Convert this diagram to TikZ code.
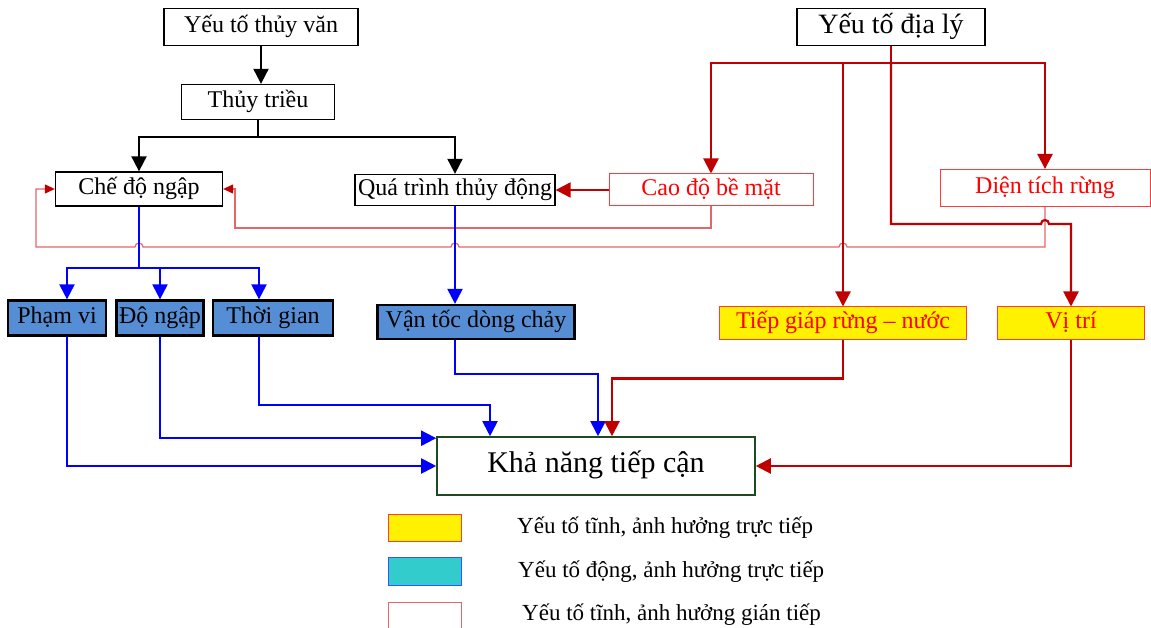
\documentclass[tikz,border=0pt]{standalone}
\usepackage{fontspec}
\setmainfont{Liberation Serif}
\usepackage{xcolor}
\usetikzlibrary{arrows.meta,positioning,calc}
\definecolor{darkred}{HTML}{C00000}
\definecolor{thinred}{HTML}{E06868}
\definecolor{boxred}{HTML}{FF3B3B}
\definecolor{textred}{HTML}{FF0000}
\definecolor{bluefill}{HTML}{558ED5}
\definecolor{goalgreen}{HTML}{1E4A22}
\definecolor{legcyan}{HTML}{33CCCC}
\definecolor{legblue}{HTML}{3355FF}

\begin{document}
\begin{tikzpicture}[x=1pt, y=1pt,
  box/.style={draw, inner sep=0pt, font=\fontsize{24}{26}\selectfont, text height=16pt, text depth=5pt},
  blkbox/.style={box, draw=black, line width=1.3pt, fill=white},
  redbox/.style={box, draw=boxred, line width=1pt, text=textred, fill=white},
  yelbox/.style={redbox, fill=yellow},
  bluebox/.style={box, draw=black, line width=2.2pt, fill=bluefill},
  blkarr/.style={-{Triangle[width=15pt,length=15pt]}, line width=2pt},
  bluarr/.style={-{Triangle[width=15pt,length=15pt]}, line width=2pt, blue},
  redarr/.style={-{Triangle[width=15pt,length=15pt]}, line width=2.2pt, darkred},
  thinarr/.style={-{Triangle[width=9pt,length=10pt,color=darkred]}, line width=1.2pt, thinred},
  legtext/.style={anchor=west, inner sep=0pt, font=\fontsize{23}{25}\selectfont}]

\useasboundingbox (0,0) rectangle (1151,-628);

% hydrology side
\node[blkbox, minimum width=194pt, minimum height=37pt] (thuyvan) at (261,-27) {Yếu tố thủy văn};
\node[blkbox, minimum width=153pt, minimum height=35pt] (thuytrieu) at (258,-102) {Thủy triều};
\node[blkbox, minimum width=167pt, minimum height=34pt] (chedo) at (139,-189) {Chế độ ngập};
\node[blkbox, minimum width=200pt, minimum height=31pt] (quatrinh) at (455,-190) {Quá trình thủy động};

% geography side
\node[blkbox, minimum width=188pt, minimum height=37pt, font=\fontsize{28}{30}\selectfont, text height=19pt, text depth=6pt] (dialy) at (891,-27) {Yếu tố địa lý};
\node[redbox, minimum width=204pt, minimum height=32pt] (caodo) at (711,-190) {Cao độ bề mặt};
\node[redbox, minimum width=210pt, minimum height=37pt] (dientich) at (1045,-188) {Diện tích rừng};

% direct factors
\node[bluebox, minimum width=98pt, minimum height=35pt] (phamvi) at (57,-318) {Phạm vi};
\node[bluebox, minimum width=87pt, minimum height=35pt] (dongap) at (160,-318) {Độ ngập};
\node[bluebox, minimum width=120pt, minimum height=35pt] (thoigian) at (273,-318) {Thời gian};
\node[bluebox, minimum width=197pt, minimum height=34pt] (vantoc) at (476,-322) {Vận tốc dòng chảy};
\node[yelbox, minimum width=247pt, minimum height=32pt] (tiepgiap) at (843,-323) {Tiếp giáp rừng – nước};
\node[yelbox, minimum width=147pt, minimum height=32pt] (vitri) at (1071,-323) {Vị trí};

\node[box, draw=goalgreen, line width=1.6pt, minimum width=318pt, minimum height=58pt, font=\fontsize{30}{32}\selectfont, text height=20pt, text depth=7pt] (khanang) at (596,-466) {Khả năng tiếp cận};

% legend
\node[box, draw=boxred, line width=1pt, fill=yellow, minimum width=73pt, minimum height=27pt] (leg1) at (425,-528) {};
\node[box, draw=legblue, line width=1pt, fill=legcyan, minimum width=73pt, minimum height=28pt] (leg2) at (425,-571) {};
\node[box, draw=thinred, line width=1pt, fill=white, minimum width=73pt, minimum height=34pt] (leg3) at (425,-619) {};
\node[legtext] (legt1) at (517,-528) {Yếu tố tĩnh, ảnh hưởng trực tiếp};
\node[legtext] (legt2) at (518,-572) {Yếu tố động, ảnh hưởng trực tiếp};
\node[legtext] (legt3) at (522,-615) {Yếu tố tĩnh, ảnh hưởng gián tiếp};

% black tree
\draw[blkarr] (thuyvan.south) -- (thuyvan.south |- thuytrieu.north);
\draw[line width=2pt] (thuytrieu.south) -- ++(0,-17) coordinate (tsplit);
\draw[blkarr] (tsplit) -| (chedo.north);
\draw[blkarr] (tsplit) -| (quatrinh.north);

% thin red feedback lines
\draw[thinarr] (caodo.south) |- (235,-228) |- (chedo.east);
\draw[thinarr] (dientich.south) -- (dientich.south |- 0,-247)
  -- ($(tiepgiap.north |- 0,-247)+(4,0)$) arc[start angle=0, end angle=180, radius=4pt]
  -- ($(quatrinh.south |- 0,-247)+(4,0)$) arc[start angle=0, end angle=180, radius=4pt]
  -- ($(chedo.south |- 0,-247)+(4,0)$) arc[start angle=0, end angle=180, radius=4pt]
  -- (36,-247) |- (chedo.west);

% red tree
\draw[line width=2.2pt, darkred] (dialy.south) -- ++(0,-17) coordinate (dsplit);
\draw[redarr] (dsplit) -| (caodo.north);
\draw[redarr] (dsplit) -| (dientich.north);
\draw[redarr] (tiepgiap.north |- dsplit) -- (tiepgiap.north);
\draw[redarr] (dsplit) -- (dsplit |- 0,-224)
  -- ($(dientich.south |- 0,-224)+(-4,0)$) arc[start angle=180, end angle=0, radius=4pt]
  -| (vitri.north);
\draw[redarr] (caodo.west) -- (quatrinh.east);

% blue tree
\draw[line width=2pt, blue] (chedo.south) -- ++(0,-61) coordinate (csplit);
\draw[bluarr] (csplit) -| ([xshift=10pt]phamvi.north);
\draw[bluarr] (csplit) -| (dongap.north);
\draw[bluarr] (csplit) -| ([xshift=-14pt]thoigian.north);
\draw[bluarr] (quatrinh.south) -- (quatrinh.south |- vantoc.north);

% into the goal
\draw[bluarr] ([xshift=10pt]phamvi.south) |- (khanang.west);
\draw[bluarr] (dongap.south) |- ([yshift=-2pt]khanang.north west);
\draw[bluarr] ([xshift=-14pt]thoigian.south) -- ++(0,-68) -| ([xshift=-106pt]khanang.north);
\draw[bluarr] (quatrinh.south |- vantoc.south) -- ++(0,-34) -| ([xshift=2pt]khanang.north);
\draw[redarr] (tiepgiap.south) -- ++(0,-39) -| ([xshift=16pt]khanang.north);
\draw[redarr] (vitri.south) |- (khanang.east);
\end{tikzpicture}
\end{document}
